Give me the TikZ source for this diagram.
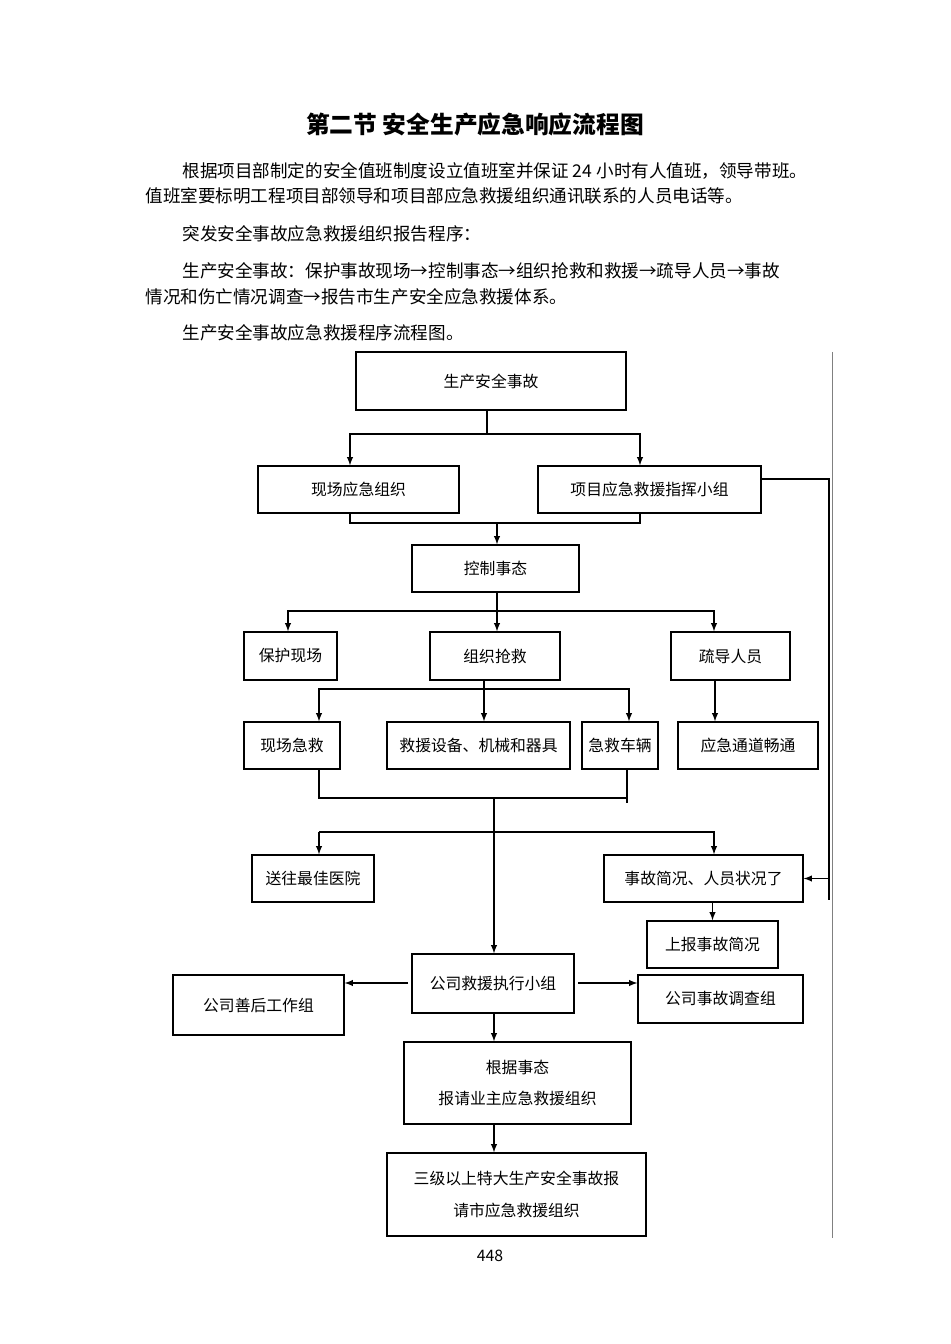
\documentclass[tikz,border=0pt]{standalone}
\usepackage{fontspec}
\setmainfont{Noto Sans CJK SC}
\usetikzlibrary{arrows,positioning,calc}
% box from corner (x1,y1) to (x2,y2), in page pixels
\newcommand{\pbox}[6]{\node[box, minimum width={(#4-#2)*0.02cm}, minimum height={(#5-#3)*0.02cm}] (#1) at ({(#2+#4)/2},{(#3+#5)/2}) {#6};}
\begin{document}
\begin{tikzpicture}[x=0.02cm,y=-0.02cm,->,>=latex,semithick]
	\tikzstyle{box}=[draw=black,thick,inner sep=0pt,font=\fontsize{9}{18}\selectfont,align=center]
	\tikzstyle{line}=[-]
	\tikzstyle{para}=[anchor=west,inner sep=0pt,font=\fontsize{10}{12}\selectfont]
	\useasboundingbox (0,0) rectangle (950,1344);
	
	\node[font=\fontsize{13.5}{16}\selectfont\bfseries] (title) at (475,125) {第二节\ 安全生产应急响应流程图};
	\node[para] (p1) at (182,171) {根据项目部制定的安全值班制度设立值班室并保证 24 小时有人值班，领导带班。};
	\node[para] (p2) at (145,196) {值班室要标明工程项目部领导和项目部应急救援组织通讯联系的人员电话等。};
	\node[para] (p3) at (182,234) {突发安全事故应急救援组织报告程序：};
	\node[para] (p4) at (182,271) {生产安全事故：保护事故现场→控制事态→组织抢救和救援→疏导人员→事故};
	\node[para] (p5) at (145,297) {情况和伤亡情况调查→报告市生产安全应急救援体系。};
	\node[para] (p6) at (182,333) {生产安全事故应急救援程序流程图。};
	\node[font=\fontsize{9}{10}\selectfont] (page) at (490,1256) {448};
	
	\pbox{A}{356}{352}{626}{410}{生产安全事故}
	\pbox{B}{258}{466}{459}{513}{现场应急组织}
	\pbox{C}{538}{466}{761}{513}{项目应急救援指挥小组}
	\pbox{D}{412}{545}{579}{592}{控制事态}
	\pbox{E}{244}{632}{337}{680}{保护现场}
	\pbox{F}{430}{632}{560}{680}{组织抢救}
	\pbox{G}{671}{632}{790}{680}{疏导人员}
	\pbox{H}{244}{722}{340}{769}{现场急救}
	\pbox{I}{387}{722}{570}{769}{救援设备、机械和器具}
	\pbox{J}{582}{722}{658}{769}{急救车辆}
	\pbox{K}{678}{722}{818}{769}{应急通道畅通}
	\pbox{L}{252}{855}{374}{902}{送往最佳医院}
	\pbox{M}{604}{855}{803}{902}{事故简况、人员状况了}
	\pbox{N}{647}{921}{778}{968}{上报事故简况}
	\pbox{O}{412}{954}{574}{1013}{公司救援执行小组}
	\pbox{P}{173}{975}{344}{1035}{公司善后工作组}
	\pbox{Q}{638}{975}{803}{1023}{公司事故调查组}
	\pbox{R}{404}{1042}{631}{1124}{根据事态\\报请业主应急救援组织}
	\pbox{S}{387}{1153}{646}{1236}{三级以上特大生产安全事故报\\请市应急救援组织}
	
	\coordinate (a1) at (487,434);
	\coordinate (b1) at (350,523);
	\coordinate (c1) at (640,523);
	\coordinate (c2) at (497,523);
	\coordinate (d1) at (497,611);
	\coordinate (e1) at (288,611);
	\coordinate (g1) at (714,611);
	\coordinate (f1) at (484,689);
	\coordinate (f2) at (319,689);
	\coordinate (f3) at (629,689);
	\coordinate (k1) at (715,700);
	\coordinate (h1) at (319,798);
	\coordinate (j1) at (627,798);
	\coordinate (o0) at (494,798);
	\coordinate (o1) at (494,832);
	\coordinate (l1) at (319,832);
	\coordinate (m1) at (714,832);
	\coordinate (r1) at (829,479);
	\coordinate (r2) at (829,900);
	\coordinate (q0) at (578,983);
	\coordinate (p0) at (408,983);
	\coordinate (edge1) at (832,352);
	\coordinate (edge2) at (832,1238);
	
	\draw[line] (A.south -| a1) -- (a1);
	\draw (a1) -| (B.north -| b1);
	\draw (a1) -| (C.north -| c1);
	\draw[line] (B.south -| b1) -- (b1) -- (c1) -- (C.south -| c1);
	\draw (c2) -- (D.north -| c2);
	\draw[line] (D.south -| d1) -- (d1);
	\draw (d1) -- (e1) -- (E.north -| e1);
	\draw (d1) -- (F.north -| d1);
	\draw (d1) -- (g1) -- (G.north -| g1);
	\draw[line] (F.south -| f1) -- (f1);
	\draw (f1) -- (f2) -- (H.north -| f2);
	\draw (f1) -- (I.north -| f1);
	\draw (f1) -- (f3) -- (J.north -| f3);
	\draw (G.south -| k1) -- (K.north -| k1);
	\draw[line] (H.south -| h1) -- (h1) -- (j1) -- (J.south -| j1);
	\draw[line] (j1) -- ++(0,5);
	\draw (o0) -- (O.north -| o0);
	\draw (l1) -- (m1) -- (M.north -| m1);
	\draw (l1) -- (L.north -| l1);
	\draw[line] (C.east |- r1) -- (r1) -- (r2);
	\draw (M.east -| r1) -- (M.east);
	\draw (M.south -| N.north) -- (N.north);
	\draw (p0) -- (P.east |- p0);
	\draw (q0) -- (Q.west |- q0);
	\draw (O.south -| o1) -- (R.north -| o1);
	\draw (R.south -| o1) -- (S.north -| o1);
	\draw[line,gray,thin] (edge1) -- (edge2);
\end{tikzpicture}
\end{document}
